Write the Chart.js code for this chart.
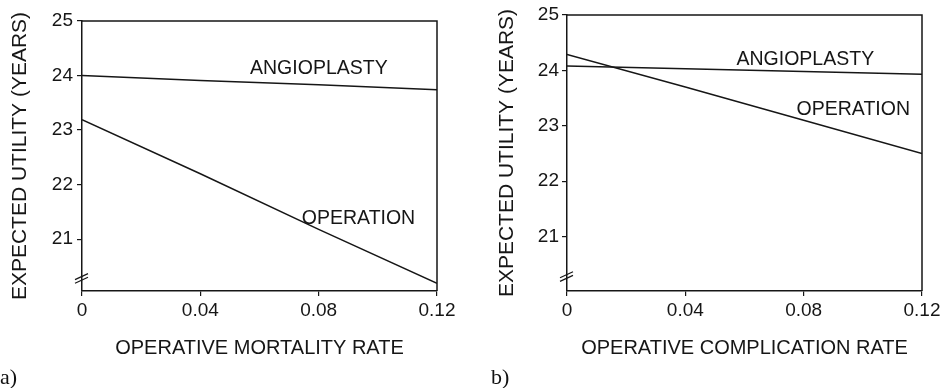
<!DOCTYPE html>
<html>
<head>
<meta charset="utf-8">
<script src="https://cdn.jsdelivr.net/npm/chart.js@4/dist/chart.umd.min.js"></script>
<style>
  html, body { margin: 0; padding: 0; background: #fff; }
  #page { position: relative; width: 947px; height: 388px; overflow: hidden; }
  .panel { position: absolute; top: 0; }
  .tag {
    position: absolute;
    font-family: "Liberation Serif", "Times New Roman", serif;
    font-size: 22px;
    line-height: 22px;
    color: #111;
  }
</style>
</head>
<body>
<div id="page">
  <canvas id="chartA" class="panel" style="left:0" width="470" height="388"></canvas>
  <canvas id="chartB" class="panel" style="left:470px" width="477" height="388"></canvas>
  <div class="tag" style="left:0; top:366px">a)</div>
  <div class="tag" style="left:491px; top:366px">b)</div>
</div>
<script>
  const INK = "#161616";

  // shared x grid (rate) and axis ticks
  const rates = [0, 0.04, 0.08, 0.12];
  const xTickValues = [0, 0.04, 0.08, 0.12];
  const xTickLabels = ["0", "0.04", "0.08", "0.12"];
  const yTickValues = [21, 22, 23, 24, 25];

  // a) expected utility vs operative mortality rate
  const angioMortality = [24.0, 23.91, 23.83, 23.74];
  const operationMortality = [23.19, 22.2, 21.18, 20.19];

  // b) expected utility vs operative complication rate
  const angioComplication = [24.08, 24.03, 23.98, 23.93];
  const operationComplication = [24.29, 23.7, 23.1, 22.5];

  Chart.defaults.font.family = "'Liberation Sans', Arial, sans-serif";
  Chart.defaults.color = INK;

  function toPoints(xs, ys) {
    return xs.map((x, i) => ({ x, y: ys[i] }));
  }

  // box on top/right plus the "//" break on the value axis
  const framePlugin = {
    id: "frame",
    afterDatasetsDraw(chart, args, opts) {
      const { ctx, chartArea } = chart;
      const { left, right, top, bottom } = chartArea;
      ctx.save();
      ctx.strokeStyle = INK;
      ctx.lineWidth = 1.5;
      ctx.beginPath();
      ctx.moveTo(left, top);
      ctx.lineTo(right, top);
      ctx.lineTo(right, bottom);
      ctx.stroke();

      const yb = chart.scales.y.getPixelForValue(opts.breakAt);
      ctx.lineWidth = 1.2;
      [-1.8, 1.8].forEach((d) => {
        ctx.beginPath();
        ctx.moveTo(left - 7, yb + d + 3);
        ctx.lineTo(left + 6, yb + d - 3);
        ctx.stroke();
      });
      ctx.restore();
    }
  };

  const curveLabelPlugin = {
    id: "curveLabels",
    afterDatasetsDraw(chart, args, opts) {
      const { ctx, scales } = chart;
      ctx.save();
      ctx.fillStyle = INK;
      ctx.font = "19.5px 'Liberation Sans', Arial, sans-serif";
      ctx.textAlign = "left";
      ctx.textBaseline = "middle";
      (opts.items || []).forEach((it) => {
        ctx.fillText(it.text, scales.x.getPixelForValue(it.x), scales.y.getPixelForValue(it.y));
      });
      ctx.restore();
    }
  };

  function makePanel(id, cfg) {
    const lineStyle = {
      borderColor: INK,
      borderWidth: 1.5,
      pointRadius: 0,
      tension: 0,
      fill: false
    };

    return new Chart(document.getElementById(id), {
      type: "line",
      data: {
        datasets: [
          { label: "ANGIOPLASTY", data: toPoints(rates, cfg.angio), ...lineStyle },
          { label: "OPERATION", data: toPoints(rates, cfg.operation), ...lineStyle }
        ]
      },
      options: {
        responsive: false,
        animation: false,
        events: [],
        layout: { padding: { top: cfg.padTop, right: cfg.padRight, left: 0, bottom: 0 } },
        plugins: {
          legend: { display: false },
          tooltip: { enabled: false },
          frame: { breakAt: 20.28 },
          curveLabels: { items: cfg.labels }
        },
        scales: {
          x: {
            type: "linear",
            min: 0,
            max: 0.12,
            afterBuildTicks(scale) {
              scale.ticks = xTickValues.map((v) => ({ value: v }));
            },
            afterFit(scale) {
              scale.height = 97;
              scale.paddingLeft = 0;
              scale.paddingRight = 0;
            },
            ticks: {
              autoSkip: false,
              maxRotation: 0,
              padding: 3,
              font: { size: 19 },
              callback: (value, i) => xTickLabels[i]
            },
            grid: {
              drawOnChartArea: false,
              drawTicks: true,
              tickLength: 5,
              color: INK,
              lineWidth: 1.2
            },
            border: { display: true, color: INK, width: 1.5 },
            title: {
              display: true,
              text: cfg.xTitle,
              font: { size: 20 },
              padding: { top: 0, bottom: 28 }
            }
          },
          y: {
            type: "linear",
            min: cfg.yMin,
            max: 25,
            afterBuildTicks(scale) {
              scale.ticks = yTickValues.map((v) => ({ value: v }));
            },
            afterFit(scale) {
              scale.width = cfg.yAxisWidth;
              scale.paddingTop = 0;
              scale.paddingBottom = 0;
            },
            ticks: {
              autoSkip: false,
              padding: cfg.yTickPad,
              font: { size: 19 }
            },
            grid: {
              drawOnChartArea: false,
              drawTicks: true,
              tickLength: 5,
              color: INK,
              lineWidth: 1.2
            },
            border: { display: true, color: INK, width: 1.5 },
            title: {
              display: true,
              text: "EXPECTED UTILITY (YEARS)",
              font: { size: 21 },
              padding: { top: cfg.yTitlePad, bottom: 0 }
            }
          }
        }
      },
      plugins: [framePlugin, curveLabelPlugin]
    });
  }

  makePanel("chartA", {
    angio: angioMortality,
    operation: operationMortality,
    xTitle: "OPERATIVE MORTALITY RATE",
    yMin: 20.05,
    padTop: 21,
    padRight: 33,
    yAxisWidth: 82,
    yTickPad: 4,
    yTitlePad: 8,
    labels: [
      { text: "ANGIOPLASTY", x: 0.0568, y: 24.12 },
      { text: "OPERATION", x: 0.0743, y: 21.38 }
    ]
  });

  makePanel("chartB", {
    angio: angioComplication,
    operation: operationComplication,
    xTitle: "OPERATIVE COMPLICATION RATE",
    yMin: 20.02,
    padTop: 15,
    padRight: 25,
    yAxisWidth: 97,
    yTickPad: 3,
    yTitlePad: 25,
    labels: [
      { text: "ANGIOPLASTY", x: 0.0573, y: 24.2 },
      { text: "OPERATION", x: 0.0776, y: 23.3 }
    ]
  });
</script>
</body>
</html>
